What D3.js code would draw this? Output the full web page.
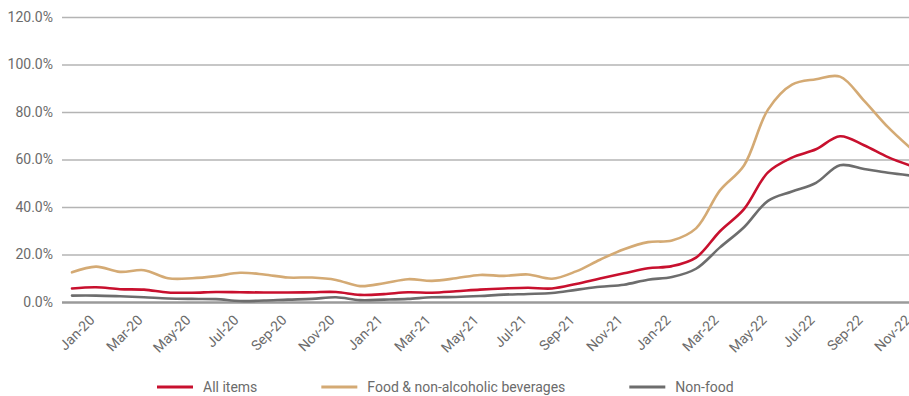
<!DOCTYPE html>
<html>
<head>
<meta charset="utf-8">
<script src="https://cdn.jsdelivr.net/npm/d3@7"></script>
<style>
  html, body { margin: 0; padding: 0; background: #ffffff; }
  svg { display: block; font-family: Roboto, "Noto Sans", sans-serif; }
</style>
</head>
<body>
<svg id="chart" width="909" height="396"></svg>
<script>
// ---------- DATA ----------
const months = [
  "Jan-20","Feb-20","Mar-20","Apr-20","May-20","Jun-20","Jul-20","Aug-20","Sep-20","Oct-20","Nov-20","Dec-20",
  "Jan-21","Feb-21","Mar-21","Apr-21","May-21","Jun-21","Jul-21","Aug-21","Sep-21","Oct-21","Nov-21","Dec-21",
  "Jan-22","Feb-22","Mar-22","Apr-22","May-22","Jun-22","Jul-22","Aug-22","Sep-22","Oct-22","Nov-22","Dec-22"
];
const allItems = [
  5.7, 6.2, 5.4, 5.2, 4.0, 3.9, 4.2, 4.1, 4.0, 4.0, 4.1, 4.2,
  3.0, 3.3, 4.1, 3.9, 4.5, 5.2, 5.7, 6.0, 5.7, 7.6, 9.9, 12.1,
  14.2, 15.1, 18.7, 29.8, 39.1, 54.6, 60.8, 64.3, 69.8, 66.0, 61.0, 57.2
];
const foodNonAlcoholic = [
  12.5, 14.9, 12.7, 13.4, 10.0, 10.0, 10.9, 12.3, 11.6, 10.3, 10.3, 9.3,
  6.7, 7.9, 9.6, 8.9, 10.0, 11.4, 11.0, 11.6, 9.8, 12.9, 17.8, 22.2,
  25.2, 25.9, 31.0, 47.0, 57.5, 81.0, 91.5, 93.8, 94.9, 84.8, 73.6, 64.2
];
const nonFood = [
  2.7, 2.7, 2.4, 2.0, 1.5, 1.3, 1.2, 0.4, 0.6, 1.0, 1.3, 2.0,
  0.8, 1.0, 1.3, 2.0, 2.1, 2.5, 3.1, 3.4, 3.8, 5.1, 6.4, 7.3,
  9.4, 10.5, 14.0, 23.0, 31.5, 42.6, 46.5, 50.2, 57.6, 56.0, 54.4, 53.2
];
const seriesNames = ["All items", "Food & non-alcoholic beverages", "Non-food"];
const seriesValues = [allItems, foodNonAlcoholic, nonFood];
const yTickValues = [0, 20, 40, 60, 80, 100, 120];
const xTickLabels = months.filter((d, i) => i % 2 === 0);

// ---------- STYLE ----------
const seriesColors = ["#c8102e", "#d4aa74", "#6d6d6d"];
const textColor = "#6b6b6b";

// ---------- LAYOUT ----------
const svg = d3.select("#chart");
const plotLeft = 62, plotRight = 924;
const x = d3.scalePoint().domain(months).range([72, 912]);
const y = d3.scaleLinear().domain([0, 120]).range([302, 17]);

// Y axis + gridlines
const yAxis = svg.append("g")
  .attr("transform", `translate(${plotLeft},0)`)
  .call(d3.axisLeft(y)
    .tickValues(yTickValues)
    .tickSize(-(plotRight - plotLeft))
    .tickPadding(9)
    .tickFormat(d => d3.format(".1f")(d) + "%"));
yAxis.select(".domain").remove();
yAxis.selectAll(".tick line")
  .attr("stroke", d => d === 0 ? "#9a9a9a" : "#b4b4b4")
  .attr("stroke-width", d => d === 0 ? 2.6 : 1.4);
yAxis.selectAll(".tick text")
  .attr("fill", textColor)
  .style("font-size", "14px")
  .style("font-family", "Roboto, sans-serif");

// X axis labels
const xAxis = svg.append("g")
  .attr("transform", `translate(0,${y(0)})`)
  .call(d3.axisBottom(x).tickValues(xTickLabels).tickSize(0));
xAxis.select(".domain").remove();
xAxis.selectAll(".tick text")
  .attr("x", 0).attr("y", 0).attr("dy", 0)
  .attr("text-anchor", "end")
  .attr("transform", "translate(23,19) rotate(-45)")
  .attr("fill", textColor)
  .style("font-size", "14px")
  .style("font-family", "Roboto, sans-serif");

// Lines
const line = d3.line()
  .x((d, i) => x(months[i]))
  .y(d => y(d))
  .curve(d3.curveCatmullRom.alpha(0.5));

const drawOrder = [2, 1, 0];
svg.append("g").selectAll("path")
  .data(drawOrder)
  .join("path")
  .attr("d", k => line(seriesValues[k]))
  .attr("fill", "none")
  .attr("stroke", k => seriesColors[k])
  .attr("stroke-width", 2.6)
  .attr("stroke-linejoin", "round")
  .attr("stroke-linecap", "round");

// Legend
const legend = svg.append("g").attr("transform", "translate(0,387)");
const items = legend.selectAll("g").data(seriesNames).join("g");
items.append("line")
  .attr("x1", 0).attr("x2", 36).attr("y1", 0).attr("y2", 0)
  .attr("stroke", (d, i) => seriesColors[i]).attr("stroke-width", 3);
items.append("text")
  .attr("x", 46).attr("y", 0).attr("dy", "0.35em")
  .attr("fill", textColor)
  .style("font-size", "14px")
  .style("font-family", "Roboto, sans-serif")
  .text(d => d);
let cursor = 157;
items.each(function () {
  const g = d3.select(this);
  g.attr("transform", `translate(${cursor},0)`);
  const w = 46 + g.select("text").node().getComputedTextLength();
  cursor += w + 64;
});
</script>
</body>
</html>
